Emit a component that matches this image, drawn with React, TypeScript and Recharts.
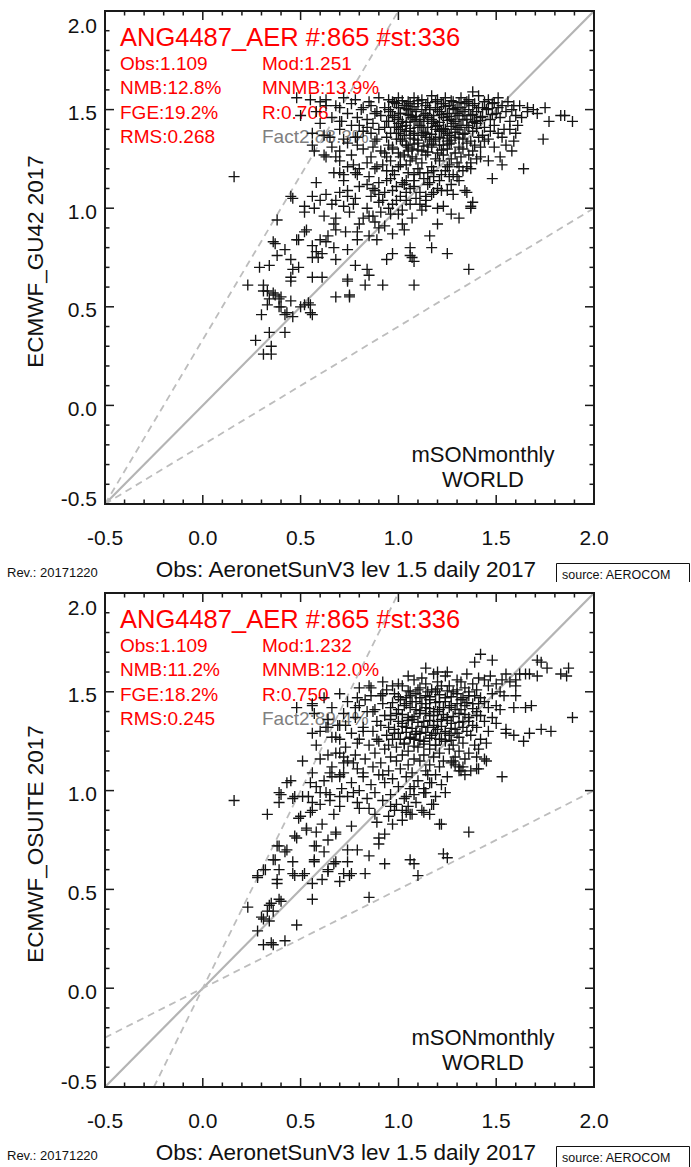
import React from 'react';
import { ScatterChart, Scatter, XAxis, YAxis, ReferenceLine } from 'recharts';

// axis ticks (every 0.1, labels on every 0.5)
const AXIS_TICKS = [-0.5, -0.4, -0.3, -0.2, -0.1, 0, 0.1, 0.2, 0.3, 0.4, 0.5, 0.6, 0.7, 0.8, 0.9, 1.0,
  1.1, 1.2, 1.3, 1.4, 1.5, 1.6, 1.7, 1.8, 1.9, 2.0];
const AXIS_DOMAIN: [number, number] = [-0.5, 2.0];

const X_TITLE = 'Obs: AeronetSunV3 lev 1.5 daily 2017';
const TITLE = 'ANG4487_AER #:865 #st:336';
const REGION_LINES = ['mSONmonthly', 'WORLD'];

const GU42_STATS = [
  ['Obs:1.109', 'Mod:1.251'],
  ['NMB:12.8%', 'MNMB:13.9%'],
  ['FGE:19.2%', 'R:0.706'],
  ['RMS:0.268', ''],
];
const OSUITE_STATS = [
  ['Obs:1.109', 'Mod:1.232'],
  ['NMB:11.2%', 'MNMB:12.0%'],
  ['FGE:18.2%', 'R:0.750'],
  ['RMS:0.245', ''],
];

// reference lines: [x1, y1, x2, y2]
const ONE_TO_ONE = [-0.5, -0.5, 2.0, 2.0];
const GU42_FACTOR2 = [[-0.5, -0.5, 1.0, 2.0], [-0.5, -0.5, 2.0, 1.0]];
const OSUITE_FACTOR2 = [[-0.25, -0.5, 1.0, 2.0], [-0.5, -0.25, 2.0, 1.0]];

// obs / model pairs (ECMWF_GU42)
const GU42_POINTS: [number, number][] = [
  [0.48, 1.56], [0.63, 1.55], [0.68, 1.52], [0.50, 1.47], [0.16, 1.16], [0.58, 1.13], [0.45, 1.06], [0.63, 1.07],
  [0.60, 1.04], [0.68, 1.04], [0.52, 0.98], [0.57, 1.00], [0.38, 0.94], [0.68, 0.95], [0.67, 0.92], [0.68, 0.89],
  [0.52, 0.88], [0.49, 0.84], [0.36, 0.83], [0.60, 0.84], [0.63, 0.83], [0.56, 0.81], [0.58, 0.78], [0.42, 0.79],
  [0.38, 0.76], [0.45, 0.74], [0.59, 0.75], [0.68, 0.74], [0.74, 0.79], [0.29, 0.70], [0.34, 0.71], [0.49, 0.70],
  [0.46, 0.69], [0.56, 0.65], [0.61, 0.65], [0.23, 0.61], [0.31, 0.61], [0.45, 0.63], [0.33, 0.58], [0.34, 0.54],
  [0.39, 0.54], [0.39, 0.50], [0.45, 0.53], [0.50, 0.50], [0.55, 0.51], [0.56, 0.46], [0.30, 0.46], [0.42, 0.46],
  [0.34, 0.37], [0.42, 0.37], [0.68, 0.55], [0.75, 0.56], [0.74, 0.64], [0.83, 0.61], [0.84, 0.69], [0.78, 0.71],
  [0.92, 0.61], [0.94, 0.74], [0.97, 0.77], [1.06, 0.80], [1.07, 0.75], [1.08, 0.61], [0.73, 0.88], [0.79, 0.88],
  [0.79, 0.84], [0.85, 0.86], [0.89, 0.84], [0.85, 0.96], [0.82, 0.95], [0.72, 1.01], [0.77, 1.02], [0.74, 1.06],
  [0.74, 1.09], [0.72, 1.17], [0.70, 1.18], [0.79, 1.17], [0.80, 1.20], [0.77, 1.22], [0.84, 1.12], [0.87, 1.10],
  [0.90, 1.07], [0.92, 1.04], [0.97, 1.09], [0.94, 1.14], [0.89, 1.21], [0.92, 1.22], [0.97, 1.19], [1.02, 1.13],
  [1.04, 1.08], [0.99, 1.04], [1.02, 0.99], [0.96, 0.97], [0.91, 0.98], [0.87, 0.96], [1.04, 1.22], [1.08, 1.17],
  [0.57, 1.29], [0.63, 1.26], [0.68, 1.26], [0.56, 1.32], [0.72, 1.35], [0.79, 1.32], [0.79, 1.36], [0.84, 1.41],
  [0.87, 1.31], [0.89, 1.35], [0.71, 1.44], [0.79, 1.46], [0.80, 1.42], [0.82, 1.51], [0.89, 1.49], [0.94, 1.44],
  [0.99, 1.41], [0.97, 1.54], [1.04, 1.52], [1.07, 1.46], [1.08, 1.37], [1.04, 1.32], [0.97, 1.30], [0.94, 1.26],
  [1.01, 1.26], [1.07, 1.26],
  [1.38, 1.59], [1.59, 1.52], [1.66, 1.51], [1.69, 1.50], [1.75, 1.51], [1.71, 1.48], [1.77, 1.44], [1.83, 1.47],
  [1.85, 1.47], [1.89, 1.44], [1.74, 1.35], [1.60, 1.38], [1.59, 1.34], [1.55, 1.32], [1.58, 1.29], [1.52, 1.26],
  [1.46, 1.24], [1.53, 1.22], [1.64, 1.20], [1.48, 1.15], [1.42, 1.26], [1.37, 1.23], [1.35, 1.08], [1.37, 1.01],
  [1.28, 1.07], [1.27, 0.97], [1.31, 0.95], [1.20, 0.92], [1.16, 0.86], [1.17, 0.80], [1.25, 0.77], [1.06, 0.76],
  [1.08, 0.73], [1.36, 0.69], [1.02, 0.92], [1.23, 1.01], [1.20, 1.00], [1.22, 1.09], [1.18, 1.08], [1.14, 1.06],
  [1.11, 1.02], [1.06, 1.02], [1.14, 1.01], [1.34, 1.09], [1.31, 1.14], [1.26, 1.16], [1.21, 1.14], [1.16, 1.13],
  [1.08, 1.11], [1.04, 1.14], [1.11, 1.18], [1.18, 1.19], [1.25, 1.21], [1.31, 1.21], [1.37, 1.20],
  [0.31, 0.58], [0.37, 0.56], [0.40, 0.55], [0.33, 0.51], [0.40, 0.50], [0.43, 0.47], [0.46, 0.45], [0.52, 0.51],
  [0.54, 0.52], [0.55, 0.47], [0.75, 0.55], [0.27, 0.33], [0.35, 0.30], [0.31, 0.26], [0.35, 0.26], [0.85, 0.66],
  [0.74, 0.63], [1.38, 1.03], [1.37, 1.00],
  [0.56, 1.38], [0.65, 1.36], [0.62, 1.27], [0.70, 1.29], [0.70, 1.44], [0.67, 1.18], [0.46, 1.05], [0.56, 1.06],
  [0.52, 1.01], [0.53, 0.89], [0.64, 0.86], [0.48, 0.84], [0.37, 0.82], [0.61, 0.77], [0.67, 0.80], [0.56, 0.75],
  [0.45, 0.65], [0.36, 0.57],
  // dense core
  [0.55, 1.55], [0.60, 1.54], [0.72, 1.56], [0.78, 1.55], [0.85, 1.54], [0.90, 1.56], [0.95, 1.55], [1.00, 1.56],
  [1.05, 1.54], [1.08, 1.56], [1.12, 1.55], [1.17, 1.57], [1.20, 1.55], [1.24, 1.56], [1.28, 1.54], [1.32, 1.56],
  [1.36, 1.55], [1.41, 1.57], [1.46, 1.55], [1.51, 1.56], [1.56, 1.54],
  [0.63, 1.52], [0.70, 1.51], [0.76, 1.53], [0.86, 1.52], [0.93, 1.51], [0.99, 1.53], [1.03, 1.52], [1.07, 1.50],
  [1.10, 1.53], [1.14, 1.52], [1.19, 1.51], [1.22, 1.53], [1.26, 1.52], [1.30, 1.51], [1.34, 1.53], [1.38, 1.52],
  [1.43, 1.51], [1.48, 1.53], [1.53, 1.52], [1.58, 1.50], [1.62, 1.52],
  [0.58, 1.49], [0.74, 1.48], [0.81, 1.50], [0.88, 1.48], [0.96, 1.49], [1.01, 1.48], [1.05, 1.50], [1.09, 1.49],
  [1.13, 1.47], [1.16, 1.50], [1.21, 1.49], [1.25, 1.48], [1.29, 1.50], [1.33, 1.49], [1.37, 1.47], [1.40, 1.49],
  [1.45, 1.50], [1.50, 1.48], [1.55, 1.49], [1.60, 1.47], [1.66, 1.49],
  [0.66, 1.46], [0.84, 1.45], [0.91, 1.47], [0.98, 1.46], [1.02, 1.44], [1.06, 1.47], [1.11, 1.45], [1.15, 1.46],
  [1.18, 1.44], [1.23, 1.46], [1.27, 1.45], [1.31, 1.47], [1.35, 1.45], [1.39, 1.44], [1.42, 1.46], [1.47, 1.45],
  [1.52, 1.46], [1.57, 1.44], [1.63, 1.46],
  [0.60, 1.43], [0.76, 1.42], [0.87, 1.43], [0.93, 1.41], [1.00, 1.43], [1.04, 1.42], [1.08, 1.44], [1.12, 1.41],
  [1.17, 1.43], [1.20, 1.42], [1.24, 1.40], [1.28, 1.43], [1.32, 1.42], [1.36, 1.41], [1.40, 1.43], [1.44, 1.41],
  [1.49, 1.42], [1.54, 1.40], [1.61, 1.42],
  [0.70, 1.40], [0.82, 1.39], [0.90, 1.40], [0.96, 1.38], [1.01, 1.40], [1.06, 1.39], [1.10, 1.41], [1.14, 1.38],
  [1.19, 1.40], [1.22, 1.39], [1.26, 1.37], [1.30, 1.40], [1.34, 1.38], [1.38, 1.39], [1.43, 1.37], [1.47, 1.39],
  [1.51, 1.38], [1.57, 1.40],
  [0.62, 1.37], [0.78, 1.36], [0.86, 1.38], [0.94, 1.36], [0.99, 1.35], [1.03, 1.37], [1.08, 1.35], [1.12, 1.37],
  [1.16, 1.35], [1.21, 1.36], [1.25, 1.34], [1.29, 1.36], [1.33, 1.35], [1.37, 1.34], [1.41, 1.36], [1.46, 1.35],
  [1.53, 1.36],
  [0.74, 1.33], [0.88, 1.34], [0.95, 1.32], [1.02, 1.34], [1.05, 1.31], [1.10, 1.33], [1.15, 1.32], [1.18, 1.34],
  [1.23, 1.32], [1.27, 1.33], [1.31, 1.31], [1.35, 1.33], [1.39, 1.32], [1.44, 1.34], [1.49, 1.31],
  [0.66, 1.31], [0.82, 1.30], [0.91, 1.29], [0.97, 1.31], [1.00, 1.28], [1.07, 1.30], [1.12, 1.29], [1.17, 1.31],
  [1.20, 1.28], [1.25, 1.30], [1.29, 1.28], [1.33, 1.30], [1.38, 1.29], [1.42, 1.31],
  [0.76, 1.27], [0.86, 1.26], [0.93, 1.28], [1.03, 1.27], [1.09, 1.25], [1.14, 1.27], [1.19, 1.25], [1.23, 1.27],
  [1.27, 1.25], [1.32, 1.26], [1.36, 1.27], [1.40, 1.25],
  [0.70, 1.24], [0.84, 1.23], [0.96, 1.24], [1.01, 1.22], [1.06, 1.24], [1.12, 1.23], [1.17, 1.21], [1.21, 1.24],
  [1.26, 1.22], [1.30, 1.23], [1.35, 1.21],
  [0.74, 1.21], [0.88, 1.20], [0.94, 1.19], [1.00, 1.21], [1.10, 1.20], [1.15, 1.18], [1.24, 1.19], [1.28, 1.17],
  [1.33, 1.19],
  [0.78, 1.18], [0.85, 1.16], [0.98, 1.17], [1.05, 1.18], [1.13, 1.15], [1.18, 1.16], [1.22, 1.17], [1.30, 1.16],
  [0.72, 1.14], [0.90, 1.13], [0.96, 1.15], [1.03, 1.12], [1.08, 1.14], [1.15, 1.12], [1.20, 1.10], [1.27, 1.12],
  [0.80, 1.11], [0.88, 1.09], [0.99, 1.11], [1.06, 1.10], [1.11, 1.08], [1.17, 1.07], [1.25, 1.09],
  [0.70, 1.08], [0.86, 1.06], [0.93, 1.08], [1.01, 1.06], [1.09, 1.05], [1.14, 1.04],
  [0.78, 1.05], [0.90, 1.03], [0.97, 1.02], [1.04, 1.04], [1.12, 0.99],
  [0.66, 1.02], [0.84, 1.00], [0.95, 1.00], [1.00, 0.97], [1.07, 0.95],
  [0.75, 0.98], [0.88, 0.93], [0.93, 0.91], [1.03, 0.89],
  [0.62, 0.96], [0.80, 0.92], [0.90, 0.90], [0.97, 0.87],
  // darkest part of the core
  [0.98, 1.535], [1.02, 1.545], [1.06, 1.53], [1.10, 1.545], [1.15, 1.535], [1.19, 1.54], [1.23, 1.53], [1.27, 1.545],
  [1.31, 1.535], [1.35, 1.54], [1.39, 1.53], [1.44, 1.54], [1.49, 1.535],
  [0.95, 1.50], [1.00, 1.51], [1.04, 1.505], [1.08, 1.515], [1.12, 1.50], [1.16, 1.51], [1.20, 1.50], [1.24, 1.515],
  [1.28, 1.505], [1.32, 1.51], [1.36, 1.50], [1.41, 1.51], [1.46, 1.505], [1.51, 1.51],
  [0.97, 1.47], [1.01, 1.48], [1.05, 1.475], [1.09, 1.465], [1.14, 1.48], [1.18, 1.47], [1.22, 1.475], [1.26, 1.465],
  [1.30, 1.48], [1.34, 1.47], [1.38, 1.475], [1.43, 1.465], [1.48, 1.475],
  [0.95, 1.44], [1.00, 1.45], [1.04, 1.435], [1.09, 1.45], [1.13, 1.44], [1.17, 1.45], [1.21, 1.435], [1.25, 1.445],
  [1.29, 1.44], [1.33, 1.45], [1.38, 1.435], [1.42, 1.445],
  [0.98, 1.41], [1.02, 1.415], [1.06, 1.405], [1.11, 1.42], [1.15, 1.41], [1.19, 1.415], [1.23, 1.405], [1.27, 1.415],
  [1.31, 1.41], [1.35, 1.42], [1.40, 1.405],
  [1.00, 1.38], [1.04, 1.39], [1.08, 1.38], [1.13, 1.385], [1.17, 1.375], [1.21, 1.39], [1.25, 1.38], [1.29, 1.385],
  [1.33, 1.375],
  [1.01, 1.35], [1.06, 1.355], [1.10, 1.345], [1.14, 1.36], [1.19, 1.35], [1.23, 1.355], [1.27, 1.345], [1.31, 1.355],
  [1.04, 1.32], [1.08, 1.325], [1.13, 1.315], [1.17, 1.325], [1.21, 1.32], [1.26, 1.325],
  [1.05, 1.29], [1.10, 1.295], [1.15, 1.285], [1.22, 1.295],
];

// obs / model pairs (ECMWF_OSUITE)
const OSUITE_POINTS: [number, number][] = [
  [0.48, 1.42], [0.56, 1.43], [0.57, 1.39], [0.64, 1.32], [0.69, 1.33], [0.56, 1.29], [0.70, 1.26], [0.51, 1.15],
  [0.64, 1.18], [0.70, 1.19], [0.72, 1.14], [0.65, 1.09], [0.70, 1.07], [0.16, 0.95], [0.33, 0.88], [0.45, 1.05],
  [0.43, 1.04], [0.55, 1.04], [0.39, 0.99], [0.46, 0.96], [0.51, 0.97], [0.56, 0.94], [0.60, 0.99], [0.65, 0.95],
  [0.70, 0.97], [0.50, 0.87], [0.56, 0.90], [0.61, 0.83], [0.67, 0.88], [0.47, 0.77], [0.53, 0.81], [0.68, 0.78],
  [0.38, 0.72], [0.42, 0.69], [0.57, 0.72], [0.62, 0.69], [0.36, 0.65], [0.46, 0.58], [0.51, 0.57], [0.57, 0.64],
  [0.67, 0.63], [0.28, 0.57], [0.32, 0.60],
  [0.85, 1.53], [0.97, 1.53], [0.92, 1.49], [0.56, 1.44], [0.62, 1.47], [0.79, 1.47], [0.78, 1.42], [0.87, 1.40],
  [0.63, 1.32], [0.73, 1.33], [0.68, 1.27], [0.79, 1.24], [0.89, 1.26], [0.82, 1.30], [0.72, 1.17], [0.77, 1.14],
  [0.82, 1.09], [0.92, 1.08], [0.72, 1.09], [0.66, 1.07], [0.40, 0.98], [0.47, 0.97], [0.54, 0.97], [0.63, 0.99],
  [0.77, 0.99], [0.79, 0.94], [0.85, 0.91], [0.96, 0.92], [0.89, 0.84], [0.97, 0.83], [1.06, 0.88], [0.39, 0.94],
  [0.49, 0.86], [0.55, 0.89], [0.53, 0.80], [0.58, 0.79], [0.68, 0.79], [0.76, 0.82], [0.64, 0.75], [0.48, 0.76],
  [0.39, 0.72], [0.43, 0.70], [0.58, 0.72], [0.74, 0.70], [0.79, 0.70], [0.90, 0.73], [0.37, 0.65], [0.46, 0.64],
  [0.57, 0.65], [0.64, 0.60], [0.68, 0.64], [0.74, 0.64], [0.85, 0.67], [0.93, 0.63], [1.06, 0.65], [0.31, 0.60],
  [0.28, 0.56], [0.39, 0.60], [0.47, 0.57], [0.52, 0.58], [0.61, 0.55], [0.72, 0.58], [0.76, 0.58], [0.83, 0.58],
  [0.38, 0.55], [0.56, 0.45], [0.39, 0.45], [0.85, 0.46], [0.23, 0.41], [0.34, 0.42], [0.30, 0.36], [0.33, 0.39],
  [0.34, 0.34], [0.48, 0.32], [0.28, 0.29], [0.31, 0.22], [0.35, 0.23], [0.42, 0.24],
  [0.38, 0.53], [0.35, 0.43], [0.40, 0.44], [0.36, 0.39], [0.31, 0.35], [0.64, 0.59], [0.75, 0.57], [0.70, 0.54],
  [0.56, 0.53], [1.10, 0.57], [0.36, 0.22],
  [1.42, 1.69], [1.48, 1.66], [1.39, 1.65], [1.71, 1.66], [1.76, 1.62], [1.83, 1.59], [1.87, 1.62], [1.86, 1.58],
  [1.14, 1.62], [1.20, 1.60], [1.25, 1.60], [1.62, 1.59], [1.67, 1.59], [1.55, 1.59], [1.60, 1.56], [0.86, 1.52],
  [0.91, 1.48], [1.60, 1.48], [1.59, 1.42], [1.68, 1.43], [1.65, 1.42], [1.89, 1.37], [1.73, 1.31], [1.78, 1.30],
  [1.55, 1.29], [1.59, 1.28], [1.67, 1.29], [1.64, 1.25], [1.45, 1.15], [1.53, 1.07], [1.40, 1.11], [1.37, 1.10],
  [1.31, 1.10], [1.29, 1.13], [1.24, 0.99], [1.17, 0.93], [1.12, 0.90], [1.21, 0.83], [1.36, 0.79], [1.13, 0.99],
  [1.02, 0.90], [0.98, 0.90], [0.93, 0.78], [0.90, 0.76], [1.08, 0.63], [1.23, 0.68], [1.25, 0.66],
  [1.73, 1.65], [1.65, 1.59], [1.71, 1.58], [1.60, 1.53], [1.55, 1.31], [1.44, 1.16], [1.28, 1.15], [1.31, 1.12],
  [1.41, 1.11], [1.32, 1.10], [1.15, 1.08], [1.16, 1.04], [1.13, 1.01], [1.08, 1.02], [1.04, 0.97], [1.08, 0.98],
  [1.14, 0.99], [1.18, 0.93], [1.04, 0.89], [1.07, 0.88], [1.13, 0.89], [1.16, 0.88], [1.22, 0.83],
  // dense core
  [1.05, 1.58], [1.12, 1.57], [1.18, 1.59], [1.24, 1.58], [1.30, 1.56], [1.35, 1.59], [1.41, 1.57], [1.47, 1.58],
  [1.53, 1.56],
  [0.92, 1.55], [1.00, 1.54], [1.08, 1.56], [1.14, 1.54], [1.20, 1.55], [1.26, 1.53], [1.32, 1.55], [1.38, 1.54],
  [1.44, 1.56], [1.50, 1.54], [1.57, 1.55],
  [0.80, 1.52], [0.94, 1.51], [1.02, 1.53], [1.06, 1.50], [1.11, 1.52], [1.17, 1.51], [1.22, 1.53], [1.28, 1.50],
  [1.34, 1.52], [1.40, 1.51], [1.46, 1.53], [1.52, 1.50],
  [0.70, 1.49], [0.86, 1.48], [0.98, 1.49], [1.04, 1.47], [1.09, 1.49], [1.14, 1.48], [1.19, 1.50], [1.24, 1.47],
  [1.30, 1.49], [1.36, 1.48], [1.42, 1.47], [1.48, 1.49], [1.54, 1.48],
  [0.74, 1.45], [0.83, 1.46], [0.92, 1.44], [1.01, 1.46], [1.07, 1.45], [1.12, 1.44], [1.16, 1.46], [1.21, 1.45],
  [1.27, 1.43], [1.32, 1.46], [1.38, 1.44], [1.44, 1.45], [1.50, 1.43],
  [0.66, 1.42], [0.80, 1.43], [0.88, 1.41], [0.96, 1.42], [1.03, 1.43], [1.09, 1.41], [1.14, 1.42], [1.18, 1.40],
  [1.23, 1.42], [1.29, 1.41], [1.34, 1.43], [1.40, 1.40], [1.46, 1.42], [1.52, 1.41],
  [0.72, 1.39], [0.84, 1.40], [0.93, 1.38], [0.99, 1.39], [1.05, 1.37], [1.11, 1.39], [1.16, 1.38], [1.20, 1.40],
  [1.25, 1.37], [1.31, 1.39], [1.36, 1.37], [1.42, 1.38], [1.48, 1.37],
  [0.64, 1.36], [0.78, 1.37], [0.89, 1.35], [0.96, 1.36], [1.02, 1.34], [1.07, 1.36], [1.13, 1.35], [1.18, 1.33],
  [1.22, 1.36], [1.27, 1.34], [1.33, 1.35], [1.38, 1.33], [1.44, 1.35], [1.50, 1.34],
  [0.70, 1.33], [0.82, 1.32], [0.91, 1.33], [0.98, 1.31], [1.04, 1.32], [1.09, 1.30], [1.15, 1.32], [1.20, 1.31],
  [1.24, 1.29], [1.29, 1.31], [1.35, 1.30], [1.40, 1.32], [1.46, 1.30],
  [0.60, 1.30], [0.76, 1.29], [0.87, 1.30], [0.94, 1.28], [1.00, 1.29], [1.06, 1.27], [1.11, 1.29], [1.17, 1.28],
  [1.22, 1.26], [1.26, 1.28], [1.31, 1.27], [1.37, 1.28], [1.42, 1.26],
  [0.66, 1.27], [0.80, 1.26], [0.90, 1.25], [0.97, 1.26], [1.03, 1.24], [1.08, 1.26], [1.13, 1.25], [1.19, 1.23],
  [1.24, 1.25], [1.28, 1.23], [1.33, 1.24], [1.39, 1.23], [1.45, 1.24],
  [0.58, 1.23], [0.73, 1.22], [0.85, 1.23], [0.93, 1.21], [0.99, 1.22], [1.05, 1.20], [1.10, 1.22], [1.16, 1.21],
  [1.21, 1.19], [1.26, 1.21], [1.31, 1.20], [1.36, 1.19], [1.41, 1.21],
  [0.68, 1.19], [0.78, 1.18], [0.88, 1.19], [0.96, 1.17], [1.02, 1.18], [1.08, 1.16], [1.13, 1.18], [1.18, 1.17],
  [1.23, 1.15], [1.29, 1.17], [1.34, 1.16], [1.40, 1.17],
  [0.60, 1.16], [0.74, 1.15], [0.83, 1.16], [0.91, 1.14], [0.99, 1.15], [1.05, 1.13], [1.11, 1.15], [1.16, 1.13],
  [1.21, 1.12], [1.27, 1.14], [1.33, 1.12],
  [0.66, 1.12], [0.79, 1.11], [0.87, 1.12], [0.95, 1.10], [1.01, 1.11], [1.07, 1.09], [1.14, 1.10], [1.19, 1.08],
  [1.25, 1.07], [1.34, 1.08],
  [0.56, 1.09], [0.70, 1.08], [0.82, 1.07], [0.90, 1.08], [0.97, 1.06], [1.04, 1.07], [1.10, 1.05], [1.17, 1.04],
  [1.22, 1.03],
  [0.62, 1.05], [0.76, 1.04], [0.86, 1.03], [0.93, 1.04], [1.00, 1.02], [1.06, 1.01], [1.13, 0.99], [1.19, 0.97],
  [0.58, 1.02], [0.71, 1.01], [0.80, 1.00], [0.88, 0.99], [0.96, 0.98], [1.03, 0.96], [1.09, 0.94],
  [0.65, 0.98], [0.74, 0.97], [0.84, 0.96], [0.92, 0.95], [0.99, 0.93], [1.05, 0.92],
  [0.60, 0.93], [0.70, 0.92], [0.80, 0.91], [0.88, 0.88], [0.95, 0.87], [1.02, 0.85],
  // darkest part of the core
  [1.05, 1.505], [1.10, 1.51], [1.15, 1.50], [1.20, 1.515], [1.25, 1.505], [1.30, 1.51], [1.36, 1.50],
  [1.00, 1.475], [1.06, 1.48], [1.11, 1.47], [1.16, 1.475], [1.21, 1.485], [1.27, 1.475], [1.33, 1.47], [1.39, 1.48],
  [0.97, 1.445], [1.04, 1.44], [1.09, 1.45], [1.14, 1.44], [1.19, 1.445], [1.24, 1.45], [1.30, 1.44], [1.35, 1.445],
  [1.41, 1.44],
  [1.00, 1.41], [1.06, 1.42], [1.11, 1.405], [1.16, 1.415], [1.21, 1.41], [1.26, 1.42], [1.32, 1.41], [1.38, 1.415],
  [0.96, 1.38], [1.02, 1.385], [1.08, 1.375], [1.14, 1.39], [1.18, 1.38], [1.23, 1.385], [1.28, 1.375], [1.34, 1.385],
  [1.40, 1.38],
  [1.00, 1.35], [1.05, 1.355], [1.10, 1.345], [1.16, 1.355], [1.20, 1.35], [1.25, 1.355], [1.31, 1.345], [1.36, 1.35],
  [0.95, 1.32], [1.02, 1.325], [1.07, 1.315], [1.12, 1.325], [1.18, 1.32], [1.22, 1.325], [1.27, 1.315], [1.33, 1.32],
  [0.98, 1.29], [1.04, 1.295], [1.09, 1.285], [1.14, 1.295], [1.19, 1.29], [1.24, 1.30], [1.30, 1.29],
  [1.01, 1.26], [1.06, 1.265], [1.11, 1.255], [1.16, 1.265], [1.21, 1.26], [1.27, 1.255],
  [0.95, 1.23], [1.03, 1.235], [1.08, 1.225], [1.13, 1.235], [1.19, 1.23],
];

const FONT = '"Liberation Sans", Arial, Helvetica, sans-serif';
const WIDTH = 691;
const PLOT_LEFT = 105;
const PLOT_RIGHT = 594;
const PLOT_TOP = 11;
const X_AXIS_H = 40;
const Y_AXIS_W = 60;
const EDGE_AXIS = 6;

const isMajor = (v: number) => Math.abs(v * 2 - Math.round(v * 2)) < 1e-6;

const Plus = (props: any) => {
  const { cx, cy } = props;
  if (cx == null || cy == null) return null;
  return (
    <path
      d={`M${cx - 5.5},${cy}H${cx + 5.5}M${cx},${cy - 5.5}V${cy + 5.5}`}
      stroke="#141414"
      strokeWidth={1.35}
      fill="none"
    />
  );
};

interface PanelProps {
  height: number;
  plotBottom: number;
  points: [number, number][];
  yLabel: string;
  stats: string[][];
  fact2: string;
  factorLines: number[][];
}

const Panel = ({ height, plotBottom, points, yLabel, stats, fact2, factorLines }: PanelProps) => {
  const data = points.map(([x, y]) => ({ x, y }));
  const midY = (PLOT_TOP + plotBottom) / 2;
  const [lo, hi] = AXIS_DOMAIN;
  const plotW = PLOT_RIGHT - PLOT_LEFT;
  const plotH = plotBottom - PLOT_TOP;

  // inward ticks (IDL style) on the same linear mapping as the plot area
  const ticks = AXIS_TICKS.filter((v) => v > lo && v < hi).map((v) => ({
    v,
    len: isMajor(v) ? 9 : 4.5,
    x: PLOT_LEFT + ((v - lo) / (hi - lo)) * plotW,
    y: plotBottom - ((v - lo) / (hi - lo)) * plotH,
  }));

  const bottomLabel = (p: any) => {
    const v = p.payload.value;
    if (!isMajor(v)) return <g />;
    return (
      <text x={p.x} y={plotBottom + 41} textAnchor="middle" fontSize={21} fontFamily={FONT} fill="#111">
        {v.toFixed(1)}
      </text>
    );
  };
  const leftLabel = (p: any) => {
    const v = p.payload.value;
    if (!isMajor(v)) return <g />;
    let dy = 10.5;
    if (v >= 1.99) dy = 22;
    if (v <= -0.49) dy = 1.5;
    return (
      <text x={97} y={p.y + dy} textAnchor="end" fontSize={21} fontFamily={FONT} fill="#111">
        {v.toFixed(1)}
      </text>
    );
  };

  return (
    <div style={{ position: 'relative', width: WIDTH, height, overflow: 'hidden' }}>
      <svg width={WIDTH} height={height} style={{ position: 'absolute', left: 0, top: 0 }} fontFamily={FONT}>
        <text x={120} y={46} fontSize={25.5} fill="#ff0000">{TITLE}</text>
        {stats.map((row, i) => (
          <g key={i}>
            <text x={120} y={70 + i * 24.4} fontSize={19} fill="#ff0000">{row[0]}</text>
            {row[1] && <text x={262} y={70 + i * 24.4} fontSize={19} fill="#ff0000">{row[1]}</text>}
          </g>
        ))}
        <text x={262} y={70 + 3 * 24.4} fontSize={19} fill="#808080">{fact2}</text>
        <text x={483} y={plotBottom - 42} textAnchor="middle" fontSize={22} fill="#111">{REGION_LINES[0]}</text>
        <text x={483} y={plotBottom - 17} textAnchor="middle" fontSize={22} fill="#111">{REGION_LINES[1]}</text>
        <text transform={`translate(42.5,${midY + 4}) rotate(-90)`} textAnchor="middle" fontSize={22.5} fill="#111">
          {yLabel}
        </text>
        <text x={346} y={plotBottom + 73} textAnchor="middle" fontSize={22.5} fill="#111">{X_TITLE}</text>
        <text x={7} y={plotBottom + 73} fontSize={13} fill="#111">Rev.: 20171220</text>
        <path
          d={`M556.5,${height}V${plotBottom + 59.5}H689.5V${height}`}
          fill="none"
          stroke="#111"
          strokeWidth={1}
        />
        <text x={562} y={plotBottom + 75} fontSize={12.5} fill="#111">source: AEROCOM</text>
      </svg>
      <div style={{ position: 'absolute', left: 0, top: 0 }}>
        <ScatterChart
          width={WIDTH}
          height={height}
          margin={{
            top: PLOT_TOP - EDGE_AXIS,
            right: WIDTH - PLOT_RIGHT - EDGE_AXIS,
            bottom: height - plotBottom - X_AXIS_H,
            left: PLOT_LEFT - Y_AXIS_W,
          }}
        >
          <XAxis
            type="number"
            dataKey="x"
            domain={AXIS_DOMAIN}
            ticks={AXIS_TICKS}
            interval={0}
            height={X_AXIS_H}
            allowDataOverflow
            tickLine={false}
            axisLine={false}
            tick={bottomLabel}
          />
          <XAxis
            xAxisId="top"
            orientation="top"
            type="number"
            domain={AXIS_DOMAIN}
            height={EDGE_AXIS}
            allowDataOverflow
            tickLine={false}
            axisLine={false}
            tick={false}
          />
          <YAxis
            type="number"
            dataKey="y"
            domain={AXIS_DOMAIN}
            ticks={AXIS_TICKS}
            interval={0}
            width={Y_AXIS_W}
            allowDataOverflow
            tickLine={false}
            axisLine={false}
            tick={leftLabel}
          />
          <YAxis
            yAxisId="right"
            orientation="right"
            type="number"
            domain={AXIS_DOMAIN}
            width={EDGE_AXIS}
            allowDataOverflow
            tickLine={false}
            axisLine={false}
            tick={false}
          />
          <ReferenceLine
            segment={[{ x: ONE_TO_ONE[0], y: ONE_TO_ONE[1] }, { x: ONE_TO_ONE[2], y: ONE_TO_ONE[3] }]}
            stroke="#b4b4b4"
            strokeWidth={2.2}
          />
          {factorLines.map((l, i) => (
            <ReferenceLine
              key={i}
              segment={[{ x: l[0], y: l[1] }, { x: l[2], y: l[3] }]}
              stroke="#bdbdbd"
              strokeWidth={1.8}
              strokeDasharray="7 5"
            />
          ))}
          <Scatter data={data} shape={Plus} isAnimationActive={false} />
        </ScatterChart>
      </div>
      <svg
        width={WIDTH}
        height={height}
        style={{ position: 'absolute', left: 0, top: 0, pointerEvents: 'none' }}
      >
        <rect
          x={PLOT_LEFT}
          y={PLOT_TOP}
          width={plotW}
          height={plotH}
          fill="none"
          stroke="#1a1a1a"
          strokeWidth={2}
        />
        {ticks.map((t) => (
          <g key={t.v}>
            <rect x={t.x - 0.75} y={plotBottom - t.len} width={1.5} height={t.len} fill="#1a1a1a" />
            <rect x={t.x - 0.75} y={PLOT_TOP} width={1.5} height={t.len} fill="#1a1a1a" />
            <rect x={PLOT_LEFT} y={t.y - 0.75} width={t.len} height={1.5} fill="#1a1a1a" />
            <rect x={PLOT_RIGHT - t.len} y={t.y - 0.75} width={t.len} height={1.5} fill="#1a1a1a" />
          </g>
        ))}
      </svg>
    </div>
  );
};

export default function App() {
  return (
    <div style={{ position: 'absolute', left: 0, top: 0, width: WIDTH, height: 1167, background: '#fff' }}>
      <Panel
        height={582}
        plotBottom={504}
        points={GU42_POINTS}
        yLabel="ECMWF_GU42 2017"
        stats={GU42_STATS}
        fact2="Fact2:88.3%"
        factorLines={GU42_FACTOR2}
      />
      <Panel
        height={585}
        plotBottom={505}
        points={OSUITE_POINTS}
        yLabel="ECMWF_OSUITE 2017"
        stats={OSUITE_STATS}
        fact2="Fact2:89.4%"
        factorLines={OSUITE_FACTOR2}
      />
    </div>
  );
}
